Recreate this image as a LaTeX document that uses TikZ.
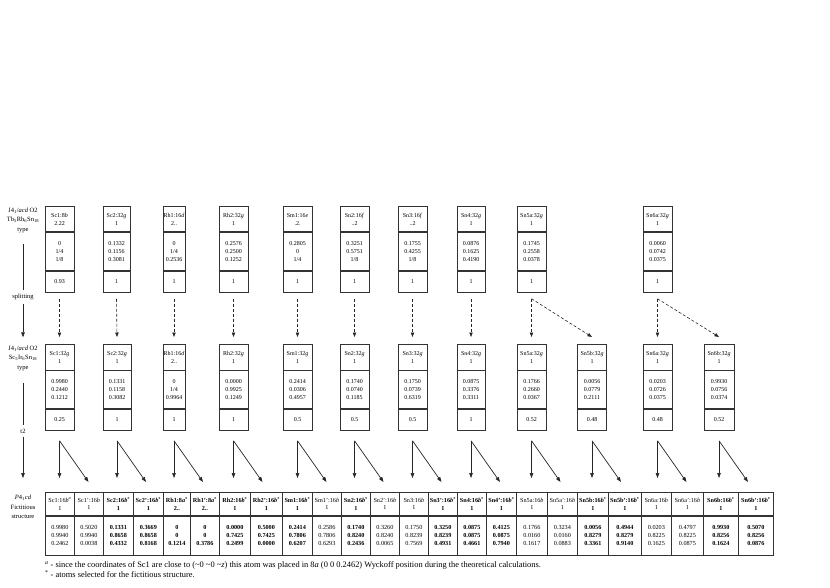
\documentclass[tikz,border=0pt]{standalone}
\usepackage{fontspec}
\setmainfont{Liberation Serif}
\usetikzlibrary{arrows.meta,calc}
\newcommand{\fsz}{\fontsize{6}{8}\selectfont}
\newcommand{\wy}[1]{\textit{#1}}
% box of three cells: name, x, ytop, width, header, coordinates, occupancy
\newcommand{\tbox}[7]{%
  \node[boxcell, minimum width=#4pt, minimum height=25.5pt] (#1h) at (#2,#3) {#5};
  \node[boxcell, minimum width=#4pt, minimum height=38pt] (#1c) at (#1h.south) {#6};
  \node[boxcell, minimum width=#4pt, minimum height=21pt] (#1o) at (#1c.south) {#7};
}
% table column: name, xleft, width, style, header, values
\newcommand{\bcol}[6]{%
  \node[tcell, #4, minimum width=#3pt, minimum height=23pt] (#1h) at (#2,492) {#5};
  \node[tcell, #4, minimum width=#3pt, minimum height=39pt] (#1v) at (#1h.south west) {#6};
}
% arrows from a middle box to its two table columns
\newcommand{\splitarr}[3]{%
  \draw[arr] ([yshift=-10pt]#1o.south) -- ($(#1o.south |- #2h.north)+(0,14pt)$);
  \draw[arr] ([yshift=-10pt]#1o.south) -- ($(#1o.south |- #3h.north)+(29pt,10pt)$);
}
\begin{document}
\begin{tikzpicture}[x=1pt,y=-1pt,
  boxcell/.style={draw=black!80, line width=0.75pt, inner sep=0pt, align=center, anchor=north, font=\fsz, text=black},
  tcell/.style={draw=black!80, line width=0.75pt, inner sep=0pt, align=center, anchor=north west, text=black},
  nrm/.style={font=\fontsize{6.2}{7.8}\selectfont},
  sel/.style={font=\fontsize{6.2}{7.8}\selectfont\bfseries},
  lab/.style={align=center, font=\fontsize{6.5}{9.5}\selectfont, inner sep=0pt, text=black},
  foot/.style={anchor=west, font=\fontsize{8.4}{8}\selectfont, inner sep=0pt, text=black},
  arr/.style={-{Triangle[length=5pt,width=3.6pt]}, line width=0.7pt, draw=black!85},
  darr/.style={-{Triangle[length=4.5pt,width=3.4pt]}, line width=0.6pt, draw=black!85, dash pattern=on 3pt off 2pt},
  lline/.style={line width=0.6pt, draw=black!85}
]
\useasboundingbox (0,0) rectangle (830,588);

% ---------- left labels ----------
\node[lab] (L1) at (23,220) {\textit{I}4\textsubscript{1}/\textit{acd} O2\\Tb\textsubscript{5}Rh\textsubscript{6}Sn\textsubscript{18}\\type};
\node[lab] (Lsp) at (23,297) {splitting};
\node[lab] (L2) at (23,358) {\textit{I}4\textsubscript{1}/\textit{acd} O2\\Sc\textsubscript{5}Ir\textsubscript{6}Sn\textsubscript{18}\\type};
\node[lab] (Lt2) at (23,431) {t2};
\node[lab] (L3) at (23,507) {\textit{P}4\textsubscript{1}\textit{cd}\\Fictitious\\structure};
\draw[lline] ([yshift=-11pt]L1.south) -- ([yshift=4pt]Lsp.north);
\draw[lline, -{Triangle[length=5pt,width=3.6pt]}] ([yshift=-4pt]Lsp.south) -- ([yshift=8pt]L2.north);
\draw[lline] ([yshift=-12pt]L2.south) -- ([yshift=3.5pt]Lt2.north);
\draw[lline, -{Triangle[length=5pt,width=3.6pt]}] ([yshift=-3.5pt]Lt2.south) -- ([yshift=17pt]L3.north);

% ---------- top row ----------
\tbox{tA}{59.5}{206}{29}{Sc1:8\wy{b}\\2.22}{0\\1/4\\1/8}{0.93}
\tbox{tB}{116.5}{206}{27}{Sc2:32\wy{g}\\1}{0.1332\\0.1156\\0.3081}{1}
\tbox{tC}{174}{206}{22}{Rh1:16\wy{d}\\2..}{0\\1/4\\0.2536}{1}
\tbox{tD}{233.5}{206}{29}{Rh2:32\wy{g}\\1}{0.2576\\0.2500\\0.1252}{1}
\tbox{tE}{297.5}{206}{29}{Sm1:16\wy{e}\\.2.}{0.2805\\0\\1/4}{1}
\tbox{tF}{354.5}{206}{29}{Sn2:16\wy{f}\\..2}{0.3251\\0.5751\\1/8}{1}
\tbox{tG}{412.5}{206}{29}{Sn3:16\wy{f}\\..2}{0.1755\\0.4255\\1/8}{1}
\tbox{tH}{471}{206}{28}{Sn4:32\wy{g}\\1}{0.0876\\0.1625\\0.4190}{1}
\tbox{tI}{531.5}{206}{29}{Sn5a:32\wy{g}\\1}{0.1745\\0.2558\\0.0378}{1}
\tbox{tJ}{657.5}{206}{29}{Sn6a:32\wy{g}\\1}{0.0060\\0.0742\\0.0375}{1}

% ---------- middle row ----------
\tbox{mA}{59.5}{344}{29}{Sc1:32\wy{g}\\1}{0.9980\\0.2440\\0.1212}{0.25}
\tbox{mB}{117}{344}{28}{Sc2:32\wy{g}\\1}{0.1331\\0.1158\\0.3082}{1}
\tbox{mC}{174}{344}{22}{Rh1:16\wy{d}\\2..}{0\\1/4\\0.9964}{1}
\tbox{mD}{233.5}{344}{29}{Rh2:32\wy{g}\\1}{0.0000\\0.9925\\0.1249}{1}
\tbox{mE}{297.5}{344}{29}{Sm1:32\wy{g}\\1}{0.2414\\0.0306\\0.4957}{0.5}
\tbox{mF}{354.5}{344}{29}{Sn2:32\wy{g}\\1}{0.1740\\0.0740\\0.1185}{0.5}
\tbox{mG}{412.5}{344}{29}{Sn3:32\wy{g}\\1}{0.1750\\0.0739\\0.6319}{0.5}
\tbox{mH}{471}{344}{28}{Sn4:32\wy{g}\\1}{0.0875\\0.3376\\0.3311}{1}
\tbox{mI}{531.5}{344}{29}{Sn5a:32\wy{g}\\1}{0.1766\\0.2660\\0.0367}{0.52}
\tbox{mK}{592}{344}{29}{Sn5b:32\wy{g}\\1}{0.0056\\0.0779\\0.2111}{0.48}
\tbox{mJ}{657.5}{344}{29}{Sn6a:32\wy{g}\\1}{0.0203\\0.0726\\0.0375}{0.48}
\tbox{mL}{719}{344}{30}{Sn6b:32\wy{g}\\1}{0.9930\\0.0756\\0.0374}{0.52}

% ---------- dashed splitting arrows ----------
\foreach \a in {A,B,C,D,E,F,G,H,I,J}{
  \draw[darr] ([yshift=-6pt]t\a o.south) -- ([yshift=7pt]m\a h.north);
}
\draw[darr] ([yshift=-6pt]tIo.south) -- ([yshift=7pt]mKh.north);
\draw[darr] ([yshift=-6pt]tJo.south) -- ([yshift=7pt]mLh.north);

% ---------- bottom table ----------
\bcol{b1}{45}{29}{nrm}{Sc1:16\wy{b}\textsuperscript{\wy{a}}\\1}{0.9980\\0.9940\\0.2462}
\bcol{b2}{74}{29}{nrm}{Sc1':16\wy{b}\\1}{0.5020\\0.9940\\0.0038}
\bcol{b3}{103}{30}{sel}{Sc2:16\wy{b}\textsuperscript{*}\\1}{0.1331\\0.8658\\0.4332}
\bcol{b4}{133}{30}{sel}{Sc2':16\wy{b}\textsuperscript{*}\\1}{0.3669\\0.8658\\0.8168}
\bcol{b5}{163}{27}{sel}{Rh1:8\wy{a}\textsuperscript{*}\\2..}{0\\0\\0.1214}
\bcol{b6}{190}{29}{sel}{Rh1':8\wy{a}\textsuperscript{*}\\2..}{0\\0\\0.3786}
\bcol{b7}{219}{31}{sel}{Rh2:16\wy{b}\textsuperscript{*}\\1}{0.0000\\0.7425\\0.2499}
\bcol{b8}{250}{32}{sel}{Rh2':16\wy{b}\textsuperscript{*}\\1}{0.5000\\0.7425\\0.0000}
\bcol{b9}{282}{30}{sel}{Sm1:16\wy{b}\textsuperscript{*}\\1}{0.2414\\0.7806\\0.6207}
\bcol{b10}{312}{29}{nrm}{Sm1':16\wy{b}\\1}{0.2586\\0.7806\\0.6293}
\bcol{b11}{341}{29}{sel}{Sn2:16\wy{b}\textsuperscript{*}\\1}{0.1740\\0.8240\\0.2436}
\bcol{b12}{370}{29}{nrm}{Sn2':16\wy{b}\\1}{0.3260\\0.8240\\0.0065}
\bcol{b13}{399}{29}{nrm}{Sn3:16\wy{b}\\1}{0.1750\\0.8239\\0.7569}
\bcol{b14}{428}{29}{sel}{Sn3':16\wy{b}\textsuperscript{*}\\1}{0.3250\\0.8239\\0.4931}
\bcol{b15}{457}{29}{sel}{Sn4:16\wy{b}\textsuperscript{*}\\1}{0.0875\\0.0875\\0.4661}
\bcol{b16}{486}{30}{sel}{Sn4':16\wy{b}\textsuperscript{*}\\1}{0.4125\\0.0875\\0.7940}
\bcol{b17}{516}{31}{nrm}{Sn5a:16\wy{b}\\1}{0.1766\\0.0160\\0.1617}
\bcol{b18}{547}{30}{nrm}{Sn5a':16\wy{b}\\1}{0.3234\\0.0160\\0.0883}
\bcol{b19}{577}{31}{sel}{Sn5b:16\wy{b}\textsuperscript{*}\\1}{0.0056\\0.8279\\0.3361}
\bcol{b20}{608}{33}{sel}{Sn5b':16\wy{b}\textsuperscript{*}\\1}{0.4944\\0.8279\\0.9140}
\bcol{b21}{641}{30}{nrm}{Sn6a:16\wy{b}\\1}{0.0203\\0.8225\\0.1625}
\bcol{b22}{671}{32}{nrm}{Sn6a':16\wy{b}\\1}{0.4797\\0.8225\\0.0875}
\bcol{b23}{703}{35}{sel}{Sn6b:16\wy{b}\textsuperscript{*}\\1}{0.9930\\0.8256\\0.1624}
\bcol{b24}{738}{35}{sel}{Sn6b':16\wy{b}\textsuperscript{*}\\1}{0.5070\\0.8256\\0.0876}

% ---------- arrows middle -> table ----------
\splitarr{mA}{b1}{b2}
\splitarr{mB}{b3}{b4}
\splitarr{mC}{b5}{b6}
\splitarr{mD}{b7}{b8}
\splitarr{mE}{b9}{b10}
\splitarr{mF}{b11}{b12}
\splitarr{mG}{b13}{b14}
\splitarr{mH}{b15}{b16}
\splitarr{mI}{b17}{b18}
\splitarr{mK}{b19}{b20}
\splitarr{mJ}{b21}{b22}
\splitarr{mL}{b23}{b24}

% ---------- footnotes ----------
\node[foot] (f1) at (45,565) {\textsuperscript{\wy{a}} - since the coordinates of Sc1 are close to (\textasciitilde0 \textasciitilde0 \textasciitilde\wy{z}) this atom was placed in 8\wy{a} (0 0 0.2462) Wyckoff position during the theoretical calculations.};
\node[foot] (f2) at (45,574) {\textsuperscript{*} - atoms selected for the fictitious structure.};
\end{tikzpicture}
\end{document}
